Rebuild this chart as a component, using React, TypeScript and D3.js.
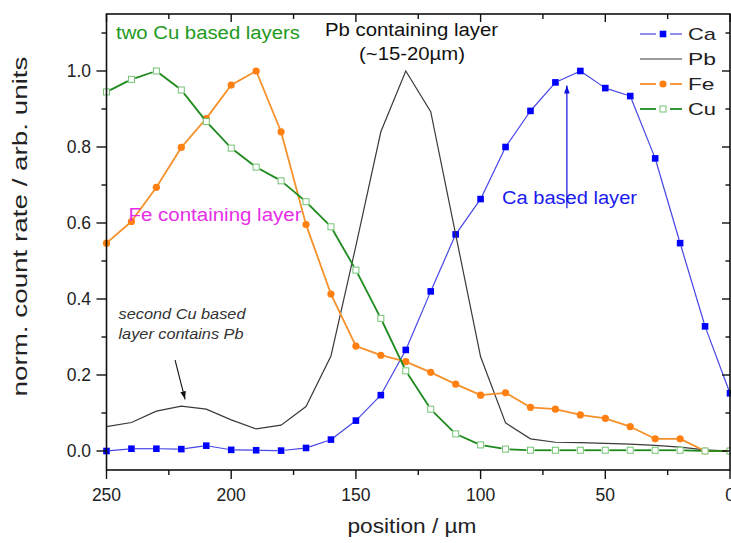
import React from "react";
import * as d3 from "d3";

// scan positions (µm) and normalised count rates
const positions = [250, 240, 230, 220, 210, 200, 190, 180, 170, 160, 150, 140, 130, 120, 110, 100, 90, 80, 70, 60, 50, 40, 30, 20, 10, 0];
const ca = [0.0, 0.006, 0.006, 0.005, 0.014, 0.003, 0.002, 0.001, 0.008, 0.03, 0.08, 0.147, 0.266, 0.42, 0.57, 0.663, 0.8, 0.895, 0.97, 1.0, 0.955, 0.934, 0.77, 0.547, 0.328, 0.152];
const pb = [0.064, 0.075, 0.105, 0.118, 0.11, 0.082, 0.058, 0.068, 0.117, 0.25, 0.54, 0.84, 1.0, 0.893, 0.57, 0.248, 0.074, 0.032, 0.023, 0.022, 0.02, 0.018, 0.015, 0.01, 0.003, 0.0];
const fe = [0.547, 0.604, 0.694, 0.799, 0.875, 0.963, 1.0, 0.84, 0.596, 0.413, 0.276, 0.252, 0.235, 0.207, 0.176, 0.147, 0.153, 0.115, 0.11, 0.095, 0.086, 0.064, 0.032, 0.032, 0.0, 0.0];
const cu = [0.945, 0.978, 1.0, 0.95, 0.867, 0.797, 0.747, 0.711, 0.656, 0.59, 0.476, 0.349, 0.211, 0.11, 0.045, 0.016, 0.005, 0.002, 0.002, 0.002, 0.002, 0.002, 0.002, 0.002, 0.0, 0.0];

const xMajor = [250, 200, 150, 100, 50, 0];
const xMinor = [225, 175, 125, 75, 25];
const yMajor = [0, 0.2, 0.4, 0.6, 0.8, 1.0];
const yMinor = [0.1, 0.3, 0.5, 0.7, 0.9, 1.1];

const W = 731;
const H = 543;
const FONT = "'Liberation Sans', Arial, Helvetica, sans-serif";

const x = d3.scaleLinear().domain([250, 0]).range([106.5, 730]);
const y = d3.scaleLinear().domain([-0.05, 1.15]).range([470, 14]);

// Origin style: line stops a little short of each symbol
function gapped(vals: number[], gap: number) {
  const segs: number[][] = [];
  for (let i = 0; i < vals.length - 1; i++) {
    const x1 = x(positions[i]), y1 = y(vals[i]);
    const x2 = x(positions[i + 1]), y2 = y(vals[i + 1]);
    const len = Math.hypot(x2 - x1, y2 - y1);
    if (len <= gap * 2) continue;
    const ux = (x2 - x1) / len, uy = (y2 - y1) / len;
    segs.push([x1 + ux * gap, y1 + uy * gap, x2 - ux * gap, y2 - uy * gap]);
  }
  return segs;
}

const pbLine = d3
  .line<number>()
  .x((_, i) => x(positions[i]))
  .y((d) => y(d));

export default function App() {
  const axisColor = "#111";
  const caLine = "#4646e6";
  const caMark = "#0000ff";
  const feLine = "#f5902a";
  const feMark = "#ff7f10";
  const cuLine = "#1e8a1e";
  const cuMark = "#74c474";

  const legendRows = [
    { name: "Ca", yy: 34, w: 28 },
    { name: "Pb", yy: 59, w: 28 },
    { name: "Fe", yy: 84, w: 26.5 },
    { name: "Cu", yy: 109, w: 28 },
  ];

  return (
    <div style={{ position: "absolute", left: 0, top: 0 }}>
      <svg width={W} height={H} style={{ display: "block", background: "#fff" }} fontFamily={FONT}>
        <defs>
          <marker id="arrBlack" viewBox="0 0 10 10" refX="10" refY="5" markerWidth="8" markerHeight="8" orient="auto" markerUnits="userSpaceOnUse">
            <path d="M0,1.5 L10,5 L0,8.5 z" fill="#111" />
          </marker>
          <marker id="arrBlue" viewBox="0 0 10 10" refX="10" refY="5" markerWidth="10" markerHeight="8" orient="auto" markerUnits="userSpaceOnUse">
            <path d="M0,1.5 L10,5 L0,8.5 z" fill="#1010e0" />
          </marker>
        </defs>

        {/* Ca */}
        <g stroke={caLine} strokeWidth={1.2}>
          {gapped(ca, 3.5).map((s, i) => (
            <line key={i} x1={s[0]} y1={s[1]} x2={s[2]} y2={s[3]} />
          ))}
        </g>
        <g fill={caMark}>
          {ca.map((v, i) => (
            <rect key={i} x={x(positions[i]) - 3.3} y={y(v) - 3.3} width={6.6} height={6.6} />
          ))}
        </g>

        {/* Pb */}
        <path d={pbLine(pb) || ""} fill="none" stroke="#3a3a3a" strokeWidth={1.2} />

        {/* Fe */}
        <g stroke={feLine} strokeWidth={1.8}>
          {gapped(fe, 3).map((s, i) => (
            <line key={i} x1={s[0]} y1={s[1]} x2={s[2]} y2={s[3]} />
          ))}
        </g>
        <g fill={feMark}>
          {fe.map((v, i) => (
            <circle key={i} cx={x(positions[i])} cy={y(v)} r={3.6} />
          ))}
        </g>

        {/* Cu */}
        <g stroke={cuLine} strokeWidth={1.8}>
          {gapped(cu, 4).map((s, i) => (
            <line key={i} x1={s[0]} y1={s[1]} x2={s[2]} y2={s[3]} />
          ))}
        </g>
        <g fill="#fff" stroke={cuMark} strokeWidth={1}>
          {cu.map((v, i) => (
            <rect key={i} x={x(positions[i]) - 3} y={y(v) - 3} width={6} height={6} />
          ))}
        </g>

        {/* frame */}
        <rect x={x(250)} y={y(1.15)} width={x(0) - x(250)} height={y(-0.05) - y(1.15)} fill="none" stroke={axisColor} strokeWidth={1.6} />

        {/* bottom axis, outward ticks */}
        <g stroke={axisColor} strokeWidth={1.4}>
          {xMajor.map((t) => (
            <line key={"xb" + t} x1={x(t)} x2={x(t)} y1={470} y2={479} />
          ))}
          {xMinor.map((t) => (
            <line key={"xbm" + t} x1={x(t)} x2={x(t)} y1={470} y2={475} />
          ))}
          {xMajor.map((t) => (
            <line key={"xt" + t} x1={x(t)} x2={x(t)} y1={14} y2={22} />
          ))}
          {xMinor.map((t) => (
            <line key={"xtm" + t} x1={x(t)} x2={x(t)} y1={14} y2={19} />
          ))}
          {yMajor.map((t) => (
            <line key={"yl" + t} x1={96.5} x2={106.5} y1={y(t)} y2={y(t)} />
          ))}
          {yMinor.map((t) => (
            <line key={"ylm" + t} x1={101.5} x2={106.5} y1={y(t)} y2={y(t)} />
          ))}
          {yMajor.map((t) => (
            <line key={"yr" + t} x1={722} x2={730} y1={y(t)} y2={y(t)} />
          ))}
          {yMinor.map((t) => (
            <line key={"yrm" + t} x1={725.5} x2={730} y1={y(t)} y2={y(t)} />
          ))}
        </g>

        {/* tick labels */}
        <g fontSize={17.5} fill="#222">
          {xMajor.map((t) => (
            <text key={"xl" + t} x={x(t)} y={500.5} textAnchor="middle">
              {t}
            </text>
          ))}
          {yMajor.map((t) => (
            <text key={"yl" + t} x={91} y={y(t) + 6.3} textAnchor="end">
              {t.toFixed(1)}
            </text>
          ))}
        </g>

        {/* axis titles */}
        <text x={412} y={533} fontSize={20} fill="#222" textAnchor="middle" textLength={129} lengthAdjust="spacingAndGlyphs">
          position / µm
        </text>
        <text transform="translate(27,226.5) rotate(-90)" fontSize={21} fill="#222" textAnchor="middle" textLength={340} lengthAdjust="spacingAndGlyphs">
          norm. count rate / arb. units
        </text>

        {/* legend */}
        {legendRows.map((r) => (
          <g key={r.name}>
            {r.name === "Pb" ? (
              <line x1={640} x2={682} y1={r.yy} y2={r.yy} stroke="#3a3a3a" strokeWidth={1.2} />
            ) : (
              <g stroke={r.name === "Ca" ? caLine : r.name === "Fe" ? feLine : cuLine} strokeWidth={r.name === "Ca" ? 1.2 : 1.8}>
                <line x1={640} x2={656} y1={r.yy} y2={r.yy} />
                <line x1={670} x2={682} y1={r.yy} y2={r.yy} />
              </g>
            )}
            {r.name === "Ca" && <rect x={659.7} y={r.yy - 3.3} width={6.6} height={6.6} fill={caMark} />}
            {r.name === "Fe" && <circle cx={663} cy={r.yy} r={3.6} fill={feMark} />}
            {r.name === "Cu" && <rect x={660} y={r.yy - 3} width={6} height={6} fill="#fff" stroke={cuMark} />}
            <text x={688} y={r.yy + 6} fontSize={17} fill="#222" textLength={r.w} lengthAdjust="spacingAndGlyphs">
              {r.name}
            </text>
          </g>
        ))}

        {/* annotations */}
        <text x={116} y={39} fontSize={18} fill="#229a22" textLength={184} lengthAdjust="spacingAndGlyphs">
          two Cu based layers
        </text>
        <text x={411.5} y={36} fontSize={18} fill="#111" textAnchor="middle" textLength={173} lengthAdjust="spacingAndGlyphs">
          Pb containing layer
        </text>
        <text x={412} y={60} fontSize={18} fill="#111" textAnchor="middle" textLength={106} lengthAdjust="spacingAndGlyphs">
          (~15-20µm)
        </text>
        <text x={128.5} y={220.5} fontSize={18} fill="#e62ee6" textLength={173} lengthAdjust="spacingAndGlyphs">
          Fe containing layer
        </text>
        <text x={502} y={204} fontSize={18} fill="#1a1aee" textLength={135} lengthAdjust="spacingAndGlyphs">
          Ca based layer
        </text>
        <text x={118.5} y={319} fontSize={15} fontStyle="italic" fill="#333" textLength={127} lengthAdjust="spacingAndGlyphs">
          second Cu based
        </text>
        <text x={118.5} y={338.5} fontSize={15} fontStyle="italic" fill="#333" textLength={125} lengthAdjust="spacingAndGlyphs">
          layer contains Pb
        </text>

        {/* arrows */}
        <line x1={x(222.5)} y1={y(0.239)} x2={x(218.5)} y2={y(0.136)} stroke="#111" strokeWidth={1.1} markerEnd="url(#arrBlack)" />
        <line x1={x(65.4)} y1={y(0.639)} x2={x(65.4)} y2={y(0.962)} stroke="#1010e0" strokeWidth={1.2} markerEnd="url(#arrBlue)" />
      </svg>
    </div>
  );
}
